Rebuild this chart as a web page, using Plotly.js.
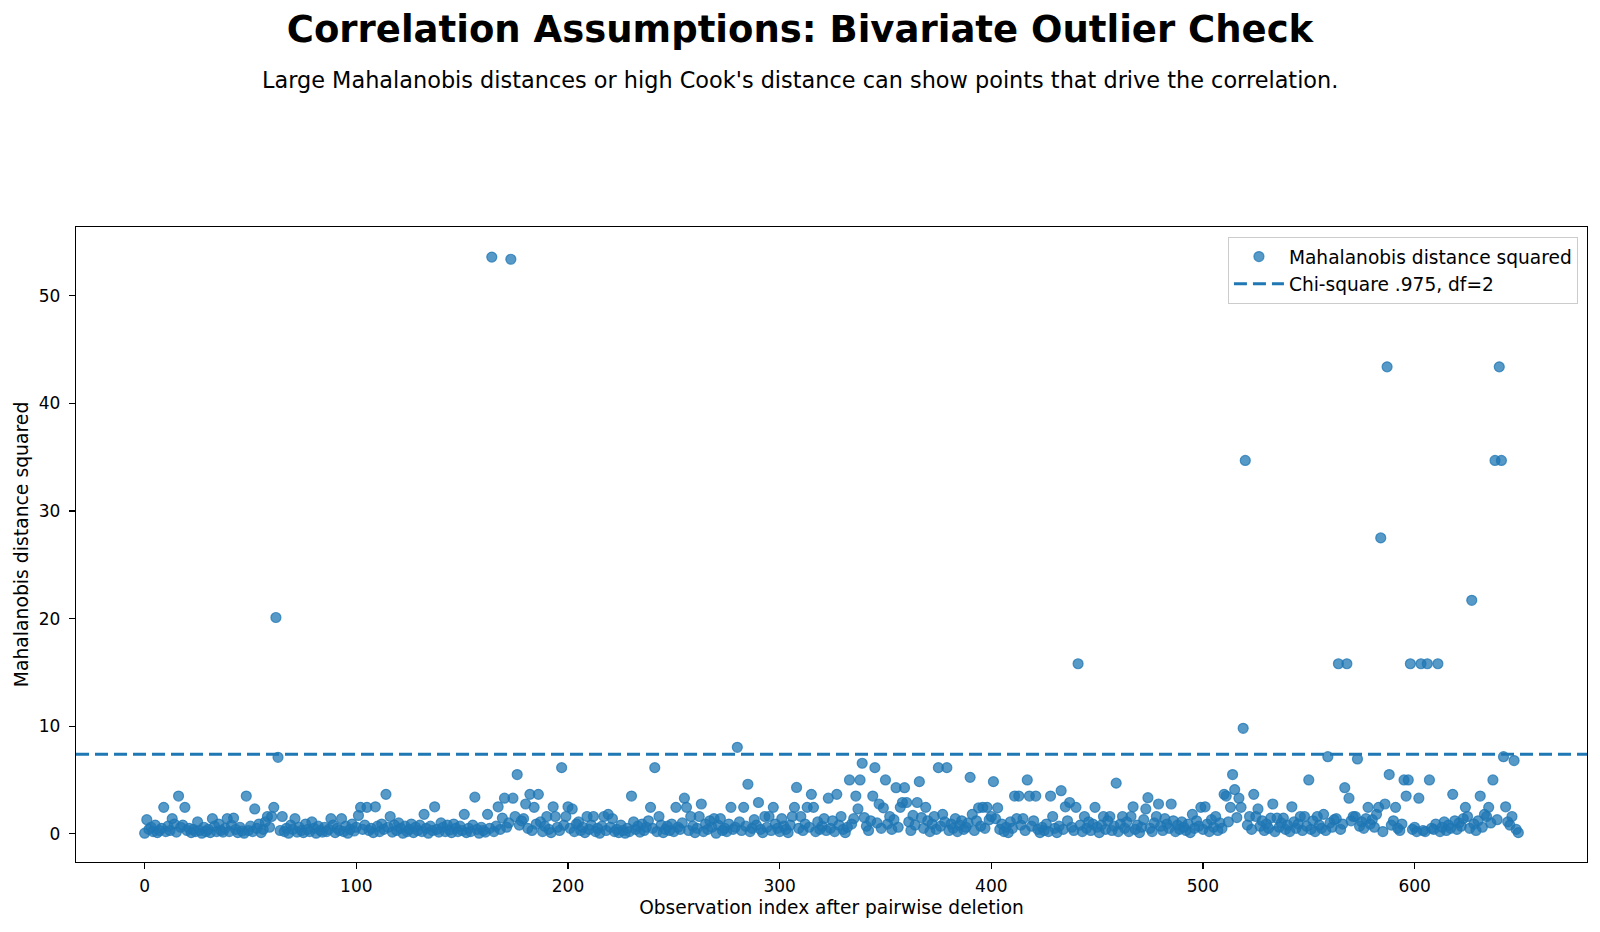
<!DOCTYPE html>
<html>
<head>
<meta charset="utf-8">
<script src="https://cdn.plot.ly/plotly-3.0.1.min.js"></script>
<style>html,body{margin:0;padding:0;background:#fff;}#chart{width:1600px;height:932px;}</style>
</head>
<body>
<div id="chart"></div>
<script>
// Mahalanobis distance squared per observation (index = position in array)
const md2Row00 = [0.05,1.3,0.4,0.6,0.2,0.8,0.1,0.3,0.5,2.45,0.2,0.7,0.3,1.4,0.9,0.15,3.5,0.6,0.8,2.45,0.3,0.5,0.1,0.4,0.2];
const md2Row01 = [1.1,0.3,0.05,0.6,0.2,0.4,0.1,1.4,0.7,0.2,0.9,0.3,0.15,0.5,1.4,0.2,0.8,1.45,0.4,0.1,0.6,0.25,0.05,3.5,0.3];
const md2Row02 = [0.7,0.2,2.3,0.5,0.9,0.1,0.4,1.1,1.6,0.6,1.6,2.45,20.1,7.1,0.3,1.6,0.2,0.5,0.05,0.8,0.4,1.4,0.15,0.6,0.3];
const md2Row03 = [0.1,0.9,0.4,0.2,1.1,0.5,0.05,0.7,0.3,0.15,0.6,0.2,0.4,1.4,0.8,0.1,0.5,0.3,1.4,0.2,0.7,0.05,0.4,0.9,0.25];
const md2Row04 = [0.6,1.7,2.45,0.4,0.8,2.45,0.3,0.5,0.1,2.5,0.7,0.2,0.9,0.4,3.66,0.6,1.6,0.15,0.8,0.3,1.0,0.5,0.05,0.7,0.2];
const md2Row05 = [0.4,0.9,0.1,0.6,0.3,0.8,0.2,1.8,0.5,0.05,0.7,0.3,2.5,0.4,0.15,1.0,0.6,0.2,0.8,0.35,0.1,0.9,0.5,0.2,0.7];
const md2Row06 = [0.3,1.8,0.1,0.5,0.2,0.8,3.4,0.4,0.05,0.6,0.3,0.15,1.8,0.5,53.6,0.2,0.7,2.5,0.4,1.45,3.3,0.6,1.0,53.4,3.3];
const md2Row07 = [1.6,5.5,0.8,1.2,1.4,2.76,0.5,3.66,0.3,2.45,0.9,3.66,1.1,0.2,0.7,1.6,0.4,0.1,2.5,1.6,0.6,0.3,6.14,0.8,1.6];
const md2Row08 = [2.5,0.5,2.3,0.2,0.9,1.1,0.3,0.6,0.1,1.6,0.4,0.8,1.6,0.2,0.5,0.05,0.7,1.6,0.3,1.8,0.6,1.4,0.2,0.4,0.1];
const md2Row09 = [0.8,0.3,0.05,0.5,0.2,3.5,1.1,0.4,0.7,0.15,0.9,0.3,0.6,1.2,2.45,0.5,6.14,0.2,1.6,0.8,0.1,0.4,0.7,0.3,0.9];
const md2Row10 = [0.2,2.45,0.6,0.4,1.0,3.3,2.45,0.3,1.6,0.7,0.1,0.5,1.6,2.76,0.2,0.9,0.4,1.2,0.6,1.4,0.05,0.8,1.4,0.3,0.5];
const md2Row11 = [0.2,0.9,2.45,0.4,0.6,8.03,1.1,0.3,2.45,0.7,4.6,0.2,0.5,1.3,0.8,2.9,0.4,0.1,1.6,0.6,1.6,0.3,2.45,0.9,0.5];
const md2Row12 = [0.2,1.4,0.7,0.4,0.1,0.8,1.6,2.45,4.3,0.5,1.6,0.3,0.9,2.45,0.6,3.66,2.45,0.2,1.1,0.4,0.7,1.4,0.3,3.3,0.5];
const md2Row13 = [1.2,0.2,3.66,0.8,1.6,0.4,0.1,0.6,5.0,0.9,1.4,3.5,2.3,5.0,6.55,1.5,0.7,0.3,1.2,3.5,6.14,1.0,2.76,0.5,2.4];
const md2Row14 = [5.0,0.9,1.6,0.4,1.3,4.28,0.6,2.45,2.9,4.28,2.9,1.1,0.3,1.7,0.8,2.9,4.84,1.5,0.5,2.45,1.2,0.2,0.9,1.6,0.4];
const md2Row15 = [6.14,0.7,1.8,1.1,6.14,0.3,0.9,0.5,1.4,0.2,0.8,1.2,0.4,0.6,1.0,5.24,1.8,0.3,1.2,2.4,0.7,2.45,0.5,2.45,1.3];
const md2Row16 = [1.6,4.84,1.4,2.4,0.4,0.9,0.2,0.6,0.1,1.1,0.5,3.5,1.4,3.5,0.8,1.4,0.3,5.0,3.5,0.7,1.2,3.5,0.4,0.1,0.6];
const md2Row17 = [0.3,0.9,0.2,3.5,1.6,0.5,0.1,0.7,4.0,0.4,2.5,1.2,2.9,0.6,0.3,2.45,15.8,0.8,0.2,1.6,0.5,1.1,0.3,0.9,2.45];
const md2Row18 = [0.6,0.1,0.8,1.6,0.4,1.2,1.6,0.3,0.7,4.7,0.2,0.9,1.6,0.5,1.1,0.2,1.6,2.5,0.4,0.8,0.1,0.6,1.3,2.3,3.35];
const md2Row19 = [0.5,0.2,1.0,1.6,2.76,0.7,0.3,1.4,0.9,0.5,2.76,1.2,0.2,0.8,0.4,1.1,0.6,0.3,0.9,0.1,1.8,0.5,1.2,0.7,2.45];
const md2Row20 = [0.4,2.5,0.9,0.2,1.3,0.6,1.6,0.3,1.0,0.5,3.66,3.5,1.1,2.45,5.5,4.1,1.5,3.3,2.45,9.8,34.7,0.8,1.6,0.4,3.66];
const md2Row21 = [1.6,2.3,0.7,1.2,0.3,0.9,0.5,1.45,2.76,0.2,1.45,0.6,1.0,1.45,0.4,0.8,0.2,2.5,1.1,0.5,0.9,1.6,0.3,1.6,0.7];
const md2Row22 = [5.0,0.4,1.2,0.2,1.6,0.8,0.5,1.8,0.3,7.16,1.0,0.6,1.3,1.4,15.8,0.4,0.9,4.28,15.8,3.3,1.2,1.6,1.6,6.95,0.7];
const md2Row23 = [1.1,0.5,1.4,2.45,0.9,1.3,0.6,1.8,2.45,27.5,0.2,2.76,43.4,5.5,0.8,1.2,2.45,0.5,0.3,0.9,5.0,3.5,5.0,15.8,0.4];
const md2Row24 = [0.6,0.2,3.3,15.8,0.3,0.2,15.8,5.0,0.5,0.4,0.9,15.8,0.2,0.6,1.1,0.3,0.8,0.5,3.66,1.2,0.4,1.0,0.7,1.4,2.45];
const md2Row25 = [1.6,0.5,21.7,0.9,0.3,1.2,3.5,0.6,1.8,1.6,2.45,1.0,5.0,34.7,1.3,43.4,34.7,7.16,2.5,1.1,0.8,1.6,6.8,0.4,0.1];

const md2 = [].concat(md2Row00,md2Row01,md2Row02,md2Row03,md2Row04,md2Row05,md2Row06,md2Row07,
  md2Row08,md2Row09,md2Row10,md2Row11,md2Row12,md2Row13,md2Row14,md2Row15,md2Row16,md2Row17,
  md2Row18,md2Row19,md2Row20,md2Row21,md2Row22,md2Row23,md2Row24,md2Row25);
const obsIndex = md2.map((v, i) => i);

const chi2Cutoff = 7.378; // chi-square .975 quantile, df = 2
const xTicks = [0,100,200,300,400,500,600];
const yTicks = [0,10,20,30,40,50];

const n = md2.length;
const xPad = (n - 1) * 0.05;
const xRange = [-xPad, (n - 1) + xPad];
const yRange = [-2.63, 56.4];

const blue = '#1f77b4';
const font = 'DejaVu Sans, sans-serif';

const W = 1600, H = 932;
const M = {l: 76, r: 13, t: 227, b: 70, pad: 0};
const plotW = W - M.l - M.r, plotH = H - M.t - M.b;

const traces = [
  {
    type: 'scatter', mode: 'markers',
    x: obsIndex, y: md2,
    name: 'Mahalanobis distance squared',
    marker: {color: 'rgba(31,119,180,0.75)', size: 10, line: {color: 'rgba(31,119,180,0.75)', width: 1.2}},
    hoverinfo: 'x+y'
  },
  {
    type: 'scatter', mode: 'lines',
    x: xRange, y: [chi2Cutoff, chi2Cutoff],
    name: 'Chi-square .975, df=2',
    line: {color: blue, width: 3, dash: '13px,6px'},
    hoverinfo: 'skip'
  }
];

const layout = {
  width: W, height: H,
  paper_bgcolor: '#ffffff', plot_bgcolor: '#ffffff',
  margin: M,
  font: {family: font, size: 17, color: '#000'},
  title: {
    text: '<b>Correlation Assumptions: Bivariate Outlier Check</b>',
    font: {family: font, size: 37, color: '#000'},
    x: 0.5, xanchor: 'center', xref: 'container',
    y: 1 - 29 / H, yanchor: 'middle', yref: 'container'
  },
  annotations: [{
    text: "Large Mahalanobis distances or high Cook's distance can show points that drive the correlation.",
    xref: 'paper', yref: 'paper', x: (W / 2 - M.l) / plotW, xanchor: 'center',
    y: (H - M.b - 80) / plotH, yanchor: 'middle', showarrow: false,
    font: {family: font, size: 22.4, color: '#000'}
  }],
  xaxis: {
    range: xRange, tickvals: xTicks, ticktext: xTicks.map(String),
    showgrid: false, zeroline: false, showline: true, mirror: true,
    linecolor: '#000', linewidth: 1.2, ticks: 'outside', ticklen: 6, tickwidth: 1.2, tickcolor: '#000',
    ticklabelstandoff: 2,
    tickfont: {family: font, size: 17, color: '#000'},
    title: {text: 'Observation index after pairwise deletion', font: {family: font, size: 18.6, color: '#000'}, standoff: 6}
  },
  yaxis: {
    range: yRange, tickvals: yTicks, ticktext: yTicks.map(String),
    showgrid: false, zeroline: false, showline: true, mirror: true,
    linecolor: '#000', linewidth: 1.2, ticks: 'outside', ticklen: 6, tickwidth: 1.2, tickcolor: '#000',
    ticklabelstandoff: 5,
    tickfont: {family: font, size: 17, color: '#000'},
    title: {text: 'Mahalanobis distance squared', font: {family: font, size: 18.8, color: '#000'}, standoff: 5}
  },
  legend: {
    x: 0.994, xanchor: 'right', y: 0.9843, yanchor: 'top',
    bgcolor: 'rgba(255,255,255,0.8)', bordercolor: '#cccccc', borderwidth: 1,
    font: {family: font, size: 18.6, color: '#000'},
    tracegroupgap: 0, itemwidth: 50
  },
  showlegend: true
};

Plotly.newPlot('chart', traces, layout, {displayModeBar: false, staticPlot: true});
</script>
</body>
</html>
